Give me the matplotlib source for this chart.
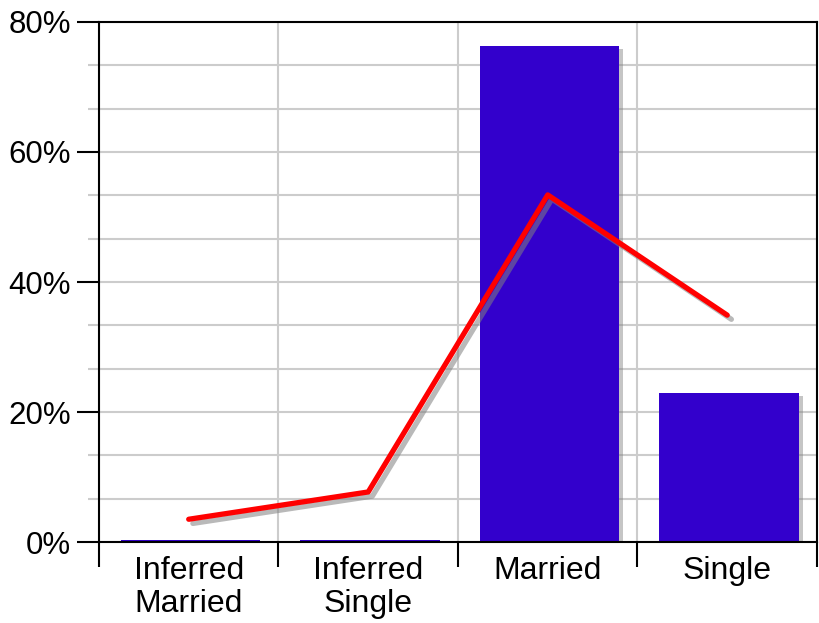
import numpy as np
import matplotlib.pyplot as plt
import matplotlib.patheffects as pe
from matplotlib.ticker import FixedLocator, FuncFormatter

plt.rcParams['font.family'] = ['Liberation Sans', 'DejaVu Sans']

categories = ["Inferred\nMarried", "Inferred\nSingle", "Married", "Single"]
bar_values = [0.3, 0.3, 76.3, 22.9]
line_values = [3.5, 7.7, 53.4, 34.9]

bar_color = '#3300cc'
line_color = '#ff0000'
grid_color = '#cccccc'

fig = plt.figure(figsize=(8.2, 6.23), dpi=100)
ax = fig.add_axes([0.1207, 0.130, 0.8756, 0.8347])

x = np.arange(len(categories))
ax.bar(x + 0.01, bar_values, width=0.775, color=bar_color, zorder=3,
       path_effects=[pe.SimplePatchShadow(offset=(3, -2), shadow_rgbFace='gray', alpha=0.45), pe.Normal()])
ax.plot(x, line_values, color=line_color, lw=3.8, zorder=4, solid_capstyle='round',
        path_effects=[pe.SimpleLineShadow(offset=(3, -3), shadow_color='gray', alpha=0.55), pe.Normal()])

ax.set_xlim(-0.5, len(categories) - 0.5)
ax.set_ylim(0, 80)

# y axis: major ticks every 20%, grid every 20/3
ax.yaxis.set_major_locator(FixedLocator([0, 20, 40, 60, 80]))
ax.yaxis.set_minor_locator(FixedLocator([v for v in np.arange(0, 80.1, 20 / 3) if round(v, 3) % 20 != 0]))
ax.yaxis.set_major_formatter(FuncFormatter(lambda v, p: f"{v:.0f}%"))
ax.tick_params(axis='y', which='major', length=16, width=1.5, color='black', labelsize=22.5, pad=4)
ax.tick_params(axis='y', which='minor', length=8, width=1.5, color=grid_color)
ax.grid(axis='y', which='both', color=grid_color, lw=1.5, zorder=0)

# x axis: ticks at category boundaries, labels at centres
ax.xaxis.set_major_locator(FixedLocator(np.arange(-0.5, len(categories), 1.0)))
ax.xaxis.set_major_formatter(FuncFormatter(lambda v, p: ""))
ax.xaxis.set_minor_locator(FixedLocator(x))
ax.set_xticklabels(categories, minor=True)
ax.tick_params(axis='x', which='major', length=18, width=1.5, color='black')
ax.tick_params(axis='x', which='minor', length=0, labelsize=23, pad=10)
for lbl in ax.get_xticklabels(minor=True):
    lbl.set_linespacing(1.12)
ax.grid(axis='x', which='major', color=grid_color, lw=1.5, zorder=0)

for s in ax.spines.values():
    s.set_linewidth(1.5)
    s.set_color('black')
    s.set_zorder(5)

plt.savefig('out.png', dpi=100)
